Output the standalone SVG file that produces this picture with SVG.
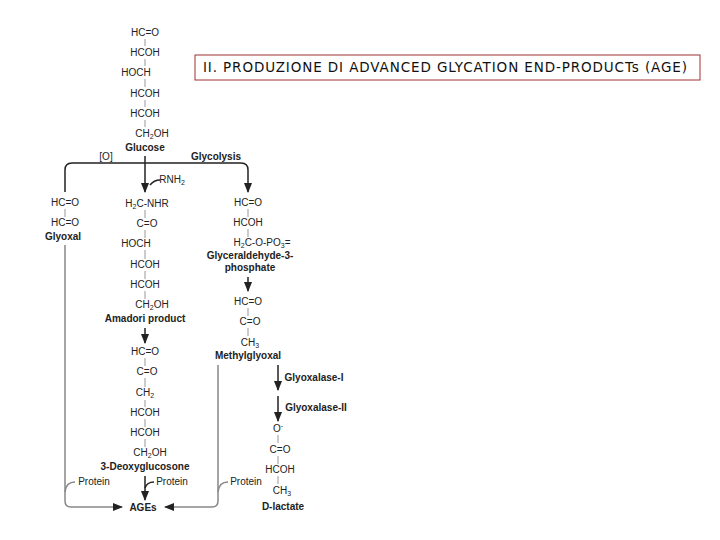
<svg xmlns="http://www.w3.org/2000/svg" width="720" height="540" viewBox="0 0 720 540">
<defs><marker id="ah" viewBox="0 0 10 10" refX="9" refY="5" markerWidth="7" markerHeight="7" orient="auto"><path d="M0,1 L10,5 L0,9 z" fill="#222"/></marker></defs>
<style>
text{font-family:"Liberation Sans",Arial,sans-serif;font-size:10px;fill:#222;text-anchor:middle}
.b{font-weight:bold}
.bd{stroke:#999;stroke-width:1}
.c{stroke:#222;stroke-width:1.5;fill:none}
.g{stroke:#888;stroke-width:1.5;fill:none}
.t{font-family:"Comic Sans MS","DejaVu Sans",sans-serif;font-size:13.5px;text-anchor:start;fill:#111}
</style>
<rect width="720" height="540" fill="#fff"/>
<g id="title"><rect x="195" y="55" width="505" height="25" fill="#fff" stroke="#a03030" stroke-width="1"/><text class="t" x="203" y="72" textLength="484" lengthAdjust="spacing">II. PRODUZIONE DI ADVANCED GLYCATION END-PRODUCTs (AGE)</text></g>
<g id="glucose">
<text x="145" y="36">HC=O</text><text x="145" y="56">HCOH</text><text x="136" y="76">HOCH</text><text x="145" y="97">HCOH</text><text x="145" y="117">HCOH</text><text x="152" y="137">CH<tspan font-size="7" dy="2">2</tspan><tspan dy="-2">OH</tspan></text>
<text class="b" x="145" y="151">Glucose</text>
<path class="bd" d="M145,39V46M145,59V66M145,79V87M145,100V107M145,120V127"/>
</g>
<g id="glyoxal"><text x="65" y="206">HC=O</text><text x="65" y="226">HC=O</text><text class="b" x="63" y="240">Glyoxal</text><path class="bd" d="M65,209V217"/></g>
<g id="amadori">
<text x="147" y="207">H<tspan font-size="7" dy="2">2</tspan><tspan dy="-2">C-NHR</tspan></text><text x="147" y="227">C=O</text><text x="136" y="247">HOCH</text><text x="145" y="268">HCOH</text><text x="145" y="288">HCOH</text><text x="152" y="308">CH<tspan font-size="7" dy="2">2</tspan><tspan dy="-2">OH</tspan></text>
<text class="b" x="145" y="322">Amadori product</text>
<path class="bd" d="M145,210V218M145,230V238M145,250V259M145,271V279M145,291V299"/>
</g>
<g id="deoxy">
<text x="145" y="355">HC=O</text><text x="147" y="375">C=O</text><text x="145" y="396">CH<tspan font-size="7" dy="2">2</tspan></text><text x="145" y="416">HCOH</text><text x="145" y="436">HCOH</text><text x="150" y="456">CH<tspan font-size="7" dy="2">2</tspan><tspan dy="-2">OH</tspan></text>
<text class="b" x="145" y="470">3-Deoxyglucosone</text>
<path class="bd" d="M145,358V366M145,378V387M145,400V407M145,419V427M145,439V447"/>
</g>
<g id="ages"><text class="b" x="143" y="511">AGEs</text></g>
<g id="g3p">
<text x="248" y="206">HC=O</text><text x="248" y="226">HCOH</text><text x="262" y="246">H<tspan font-size="7" dy="2">2</tspan><tspan dy="-2">C-O-PO</tspan><tspan font-size="7" dy="2">3</tspan><tspan dy="-2">=</tspan></text>
<text class="b" x="250" y="259">Glyceraldehyde-3-</text><text class="b" x="250" y="271">phosphate</text>
<path class="bd" d="M248,209V217M248,229V237"/>
</g>
<g id="methylglyoxal">
<text x="248" y="305">HC=O</text><text x="250" y="325">C=O</text><text x="250" y="346">CH<tspan font-size="7" dy="2">3</tspan></text>
<text class="b" x="248" y="359">Methylglyoxal</text>
<path class="bd" d="M248,308V316M248,328V336"/>
</g>
<g id="dlactate">
<text x="278" y="432">O<tspan font-size="7" dy="-4">-</tspan></text><text x="280" y="453">C=O</text><text x="280" y="473">HCOH</text><text x="282" y="494">CH<tspan font-size="7" dy="2">3</tspan></text>
<text class="b" x="283" y="510">D-lactate</text>
<path class="bd" d="M278,435V443M278,456V464M278,476V484"/>
</g>
<g id="connectors">
<path class="c" d="M145,156V192" marker-end="url(#ah)"/>
<path class="c" d="M65,192V170Q65,163 72,163H241Q248,163 248,170V192" marker-end="url(#ah)"/>
<path class="c" d="M150,185Q154,180 160,180"/>
<text x="172" y="183">RNH<tspan font-size="7" dy="2">2</tspan></text>
<text x="106" y="160">[O]</text><text class="b" x="216" y="160">Glycolysis</text>
<path class="c" d="M145,328V343" marker-end="url(#ah)"/>
<path class="c" d="M145,476V500" marker-end="url(#ah)"/>
<path class="c" d="M145,488Q147,482 154,482"/><text x="172" y="485">Protein</text>
<path class="c" d="M248,277V291" marker-end="url(#ah)"/>
<path class="c" d="M278,365V390" marker-end="url(#ah)"/><text class="b" x="314" y="381">Glyoxalase-I</text>
<path class="c" d="M278,396V421" marker-end="url(#ah)"/><text class="b" x="316" y="411">Glyoxalase-II</text>
<path class="g" d="M65,245V501Q65,507 71,507H122" marker-end="url(#ah)"/>
<path class="g" d="M65,492Q66,482 75,482"/><text x="94" y="485">Protein</text>
<path class="g" d="M218,365V501Q218,507 212,507H165" marker-end="url(#ah)"/>
<path class="g" d="M218,492Q219,482 228,482"/><text x="246" y="485">Protein</text>
</g>
</svg>
